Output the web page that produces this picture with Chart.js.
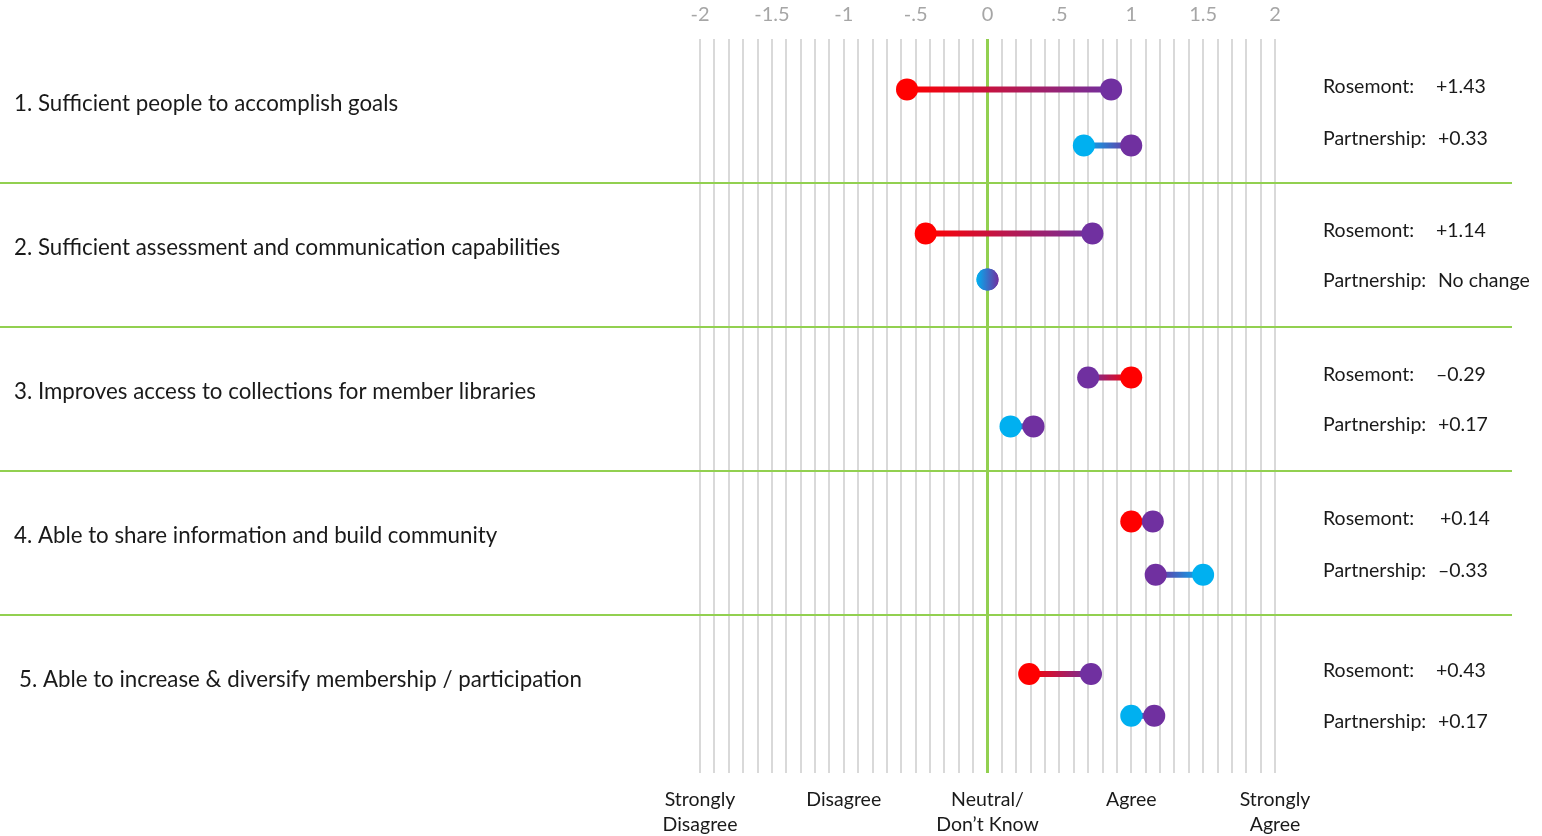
<!DOCTYPE html>
<html>
<head>
<meta charset="utf-8">
<script src="https://cdn.jsdelivr.net/npm/chart.js@4.4.1/dist/chart.umd.min.js"></script>
<style>
  html, body { margin: 0; padding: 0; background: #fff; }
  #wrap { width: 1542px; height: 836px; }
</style>
</head>
<body>
<div id="wrap"><canvas id="c"></canvas></div>
<script>
// data
const questions = [
  '1. Sufficient people to accomplish goals',
  '2. Sufficient assessment and communication capabilities',
  '3. Improves access to collections for member libraries',
  '4. Able to share information and build community',
  '5. Able to increase & diversify membership / participation'
];
const rosemontBefore    = [-0.56, -0.43, 1.00, 1.00, 0.29];
const rosemontAfter     = [ 0.86,  0.73, 0.70, 1.15, 0.72];
const partnershipBefore = [ 0.67,  0.00, 0.16, 1.50, 1.00];
const partnershipAfter  = [ 1.00,  0.00, 0.32, 1.17, 1.16];
const rosemontChange    = ['+1.43', '+1.14', '\u20130.29', '+0.14', '+0.43'];
const partnershipChange = ['+0.33', 'No change', '+0.17', '\u20130.33', '+0.17'];
const topTicks    = ['-2', '-1.5', '-1', '-.5', '0', '.5', '1', '1.5', '2'];
const scaleLabels = [['Strongly', 'Disagree'], 'Disagree', ['Neutral/', 'Don\u2019t Know'], 'Agree', ['Strongly', 'Agree']];

// layout: vertical placement inside each row (in row units)
const rosY   = [0.35, 1.35, 2.35, 3.35, 4.41];
const parY   = [0.74, 1.67, 2.69, 3.72, 4.70];
const labRos = [0.33, 1.33, 2.33, 3.33, 4.39];
const labPar = [0.69, 1.68, 2.68, 3.69, 4.74];

const RED = '#ff0000', PURPLE = '#7030a0', CYAN = '#00b0f0', GREEN = '#92d050';
const FONT = 'Lato, "Open Sans", sans-serif';

function grad(chart, x0, x1, c0, c1) {
  const xs = chart.scales.x;
  if (!xs || !chart.chartArea) return c0;
  let p0 = xs.getPixelForValue(x0), p1 = xs.getPixelForValue(x1);
  if (p0 === p1) { p0 -= 11; p1 += 11; }
  const g = chart.ctx.createLinearGradient(p0, 0, p1, 0);
  g.addColorStop(0, c0);
  g.addColorStop(1, c1);
  return g;
}

function dumbbell(b, a, y, c0, c1) {
  return {
    data: [{x: b, y: y}, {x: a, y: y}],
    borderWidth: 6,
    borderColor: (ctx) => grad(ctx.chart, b, a, c0, c1),
    pointRadius: 11,
    pointHoverRadius: 11,
    pointBorderWidth: 0,
    pointBackgroundColor: (ctx) => b === a ? grad(ctx.chart, b, a, c0, c1) : (ctx.dataIndex === 0 ? c0 : c1),
    clip: false
  };
}

const datasets = [];
questions.forEach((q, i) => {
  datasets.push(dumbbell(rosemontBefore[i], rosemontAfter[i], rosY[i], RED, PURPLE));
  datasets.push(dumbbell(partnershipBefore[i], partnershipAfter[i], parY[i], CYAN, PURPLE));
});

// row labels, separators and change text
const sidePlugin = {
  id: 'side',
  beforeDatasetsDraw(chart) {
    const y = chart.scales.y, ctx = chart.ctx;
    ctx.save();
    ctx.strokeStyle = GREEN;
    ctx.lineWidth = 2;
    for (let i = 1; i < questions.length; i++) {
      const py = Math.round(y.getPixelForValue(i));
      ctx.beginPath();
      ctx.moveTo(0, py);
      ctx.lineTo(1512, py);
      ctx.stroke();
    }
    ctx.restore();
  },
  afterDraw(chart) {
    const y = chart.scales.y, ctx = chart.ctx;
    ctx.save();
    ctx.fillStyle = '#1a1a1a';
    ctx.textBaseline = 'middle';
    ctx.font = '22.3px ' + FONT;
    questions.forEach((q, i) => {
      ctx.fillText(q, i === 4 ? 19 : 14, y.getPixelForValue(i + 0.45));
    });
    ctx.font = '19.5px ' + FONT;
    questions.forEach((q, i) => {
      const r = y.getPixelForValue(labRos[i]), p = y.getPixelForValue(labPar[i]);
      ctx.fillText('Rosemont:', 1323, r);
      ctx.fillText(rosemontChange[i], i === 3 ? 1440 : 1436, r);
      ctx.fillText('Partnership:', 1323, p);
      ctx.fillText(partnershipChange[i], 1438, p);
    });
    ctx.restore();
  }
};

new Chart(document.getElementById('c'), {
  type: 'line',
  data: { datasets },
  options: {
    responsive: true,
    maintainAspectRatio: false,
    animation: false,
    events: [],
    layout: { padding: { left: 700, right: 267, top: 0, bottom: 0 } },
    plugins: { legend: { display: false }, tooltip: { enabled: false } },
    scales: {
      x: {
        type: 'linear',
        position: 'top',
        min: -2, max: 2,
        afterBuildTicks: (s) => {
          s.ticks = [];
          for (let k = 0; k <= 40; k++) s.ticks.push({ value: -2 + k * 0.1 });
        },
        afterFit: (s) => { s.height = 39; },
        grid: {
          color: (c) => Math.abs(c.tick.value) < 1e-6 ? GREEN : '#d9d9d9',
          lineWidth: (c) => Math.abs(c.tick.value) < 1e-6 ? 3 : 2,
          drawTicks: false
        },
        border: { display: false },
        ticks: {
          autoSkip: false,
          maxRotation: 0,
          padding: 12,
          color: '#a6a6a6',
          font: { family: FONT, size: 20, lineHeight: 1.2 },
          callback: (v) => {
            const k = Math.round((v + 2) * 10);
            return k % 5 === 0 ? topTicks[k / 5] : '';
          }
        }
      },
      x2: {
        type: 'linear',
        position: 'bottom',
        min: -2, max: 2,
        afterBuildTicks: (s) => {
          s.ticks = [-2, -1, 0, 1, 2].map(v => ({ value: v }));
        },
        afterFit: (s) => { s.height = 63; },
        grid: { display: false, drawTicks: false },
        border: { display: false },
        ticks: {
          autoSkip: false,
          maxRotation: 0,
          padding: 14,
          color: '#1a1a1a',
          font: { family: FONT, size: 19.5, lineHeight: 1.28 },
          callback: (v) => scaleLabels[Math.round(v) + 2]
        }
      },
      y: {
        display: false,
        reverse: true,
        min: 0, max: 5.097
      }
    }
  },
  plugins: [sidePlugin]
});
</script>
</body>
</html>
